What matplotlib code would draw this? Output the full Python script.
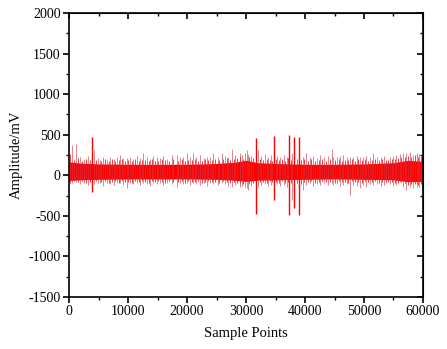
import numpy as np
import matplotlib
matplotlib.use('Agg')
import matplotlib.pyplot as plt
from matplotlib.ticker import MultipleLocator

# dense core of the signal (envelope)
core_x = [0, 2000, 5000, 10000, 15000, 20000, 25000, 28000, 30000, 32000,
          35000, 40000, 45000, 50000, 55000, 57500, 60000]
core_hi = [165, 150, 140, 135, 135, 135, 145, 160, 185, 155,
           145, 135, 135, 140, 155, 185, 170]
core_lo = [-65, -55, -50, -45, -45, -45, -50, -60, -75, -60,
           -55, -50, -45, -50, -55, -80, -75]

# single excursions sticking out of the core (sample, top, bottom)
spike_x = [450, 1190, 1800, 2500, 3200, 3960, 4300, 4900, 5250, 5800,
           6380, 7000, 7600, 8100, 8640, 9200, 9770, 10300, 10900, 11500,
           12000, 12600, 13200, 13800, 14300, 14850, 15400, 16000, 16600, 17400,
           18250, 18800, 19400, 19940, 20500, 21070, 21600, 22200, 22800, 23340,
           23900, 24470, 25200, 25880, 26500, 27000, 27580, 28200, 28900, 29270,
           29800, 30120, 30300, 30900, 31640, 32080, 32600, 33200, 33800, 34200,
           34750, 35300, 35800, 36400, 36900, 37350, 37800, 38200, 39000, 39600,
           40200, 40800, 41400, 42000, 42600, 43200, 43900, 44500, 44750, 45400,
           46000, 46480, 47100, 47600, 48200, 48800, 49300, 49900, 50400, 51000,
           51560, 52200, 52800, 53400, 53800, 54400, 55000, 55500, 56100, 56600,
           57180, 57800, 58300, 58900, 59400, 59750]
spike_hi = [373, 386, 230, 200, 240, 476, 312, 210, 189, 220,
            197, 230, 200, 220, 250, 210, 209, 230, 200, 240,
            210, 271, 220, 200, 240, 230, 210, 240, 200, 250,
            250, 220, 230, 271, 220, 271, 230, 250, 210, 230,
            220, 271, 230, 271, 240, 220, 320, 250, 270, 250,
            280, 312, 260, 240, 464, 312, 240, 260, 230, 250,
            484, 240, 220, 250, 230, 497, 280, 476, 476, 230,
            271, 220, 240, 210, 250, 220, 240, 320, 230, 220,
            240, 250, 220, 230, 220, 240, 220, 230, 240, 220,
            271, 230, 220, 240, 189, 230, 240, 250, 260, 270,
            280, 291, 250, 271, 260, 250]
spike_lo = [-100, -80, -110, -90, -120, -202, -110, -100, -90, -130,
            -100, -110, -120, -90, -100, -120, -161, -100, -110, -90,
            -120, -100, -110, -130, -100, -110, -90, -120, -100, -110,
            -140, -100, -110, -90, -120, -100, -110, -120, -100, -130,
            -100, -110, -120, -100, -110, -130, -140, -120, -140, -130,
            -150, -160, -181, -130, -481, -140, -120, -110, -130, -120,
            -305, -110, -130, -120, -140, -490, -300, -407, -490, -181,
            -120, -100, -130, -110, -120, -100, -120, -99, -120, -110,
            -130, -120, -110, -243, -120, -130, -161, -120, -140, -110,
            -120, -110, -130, -120, -100, -110, -130, -120, -79, -140,
            -181, -150, -160, -140, -150, -161]

# shorter ragged edges of the core
edge_x = [150, 800, 1500, 2150, 2800, 3500, 4600, 5500, 6100, 6700,
          7300, 7850, 8400, 8950, 9500, 10050, 10600, 11200, 11800, 12300,
          12900, 13500, 14050, 14600, 15150, 15700, 16300, 16950, 17700, 18500,
          19100, 19700, 20250, 20800, 21350, 21900, 22500, 23050, 23600, 24200,
          24800, 25500, 26150, 26750, 27300, 27900, 28550, 29050, 29550, 30550,
          31200, 32350, 32900, 33500, 34000, 34450, 35050, 35550, 36100, 36650,
          37100, 37600, 38600, 39300, 39900, 40500, 41100, 41700, 42300, 42900,
          43550, 44200, 45100, 45700, 46250, 46800, 47350, 47900, 48500, 49050,
          49600, 50150, 50700, 51300, 51850, 52500, 53100, 53650, 54100, 54700,
          55250, 55800, 56350, 56900, 57450, 58050, 58600, 59150, 59600, 59900]
edge_hi = [260, 190, 210, 180, 200, 185, 190, 175, 205, 180,
           195, 175, 185, 200, 170, 190, 180, 200, 175, 190,
           185, 170, 195, 180, 175, 200, 185, 170, 195, 180,
           200, 175, 190, 185, 195, 180, 175, 200, 185, 190,
           200, 185, 195, 210, 190, 200, 215, 225, 200, 230,
           210, 200, 185, 205, 190, 180, 200, 185, 195, 180,
           210, 190, 200, 185, 205, 180, 195, 175, 190, 200,
           180, 195, 185, 200, 175, 190, 185, 200, 180, 195,
           185, 200, 175, 190, 200, 185, 195, 180, 190, 200,
           195, 210, 220, 230, 240, 225, 245, 230, 235, 220]
edge_lo = [-90, -75, -85, -70, -95, -80, -75, -85, -70, -90,
           -80, -75, -95, -70, -85, -80, -90, -70, -85, -75,
           -80, -90, -70, -85, -75, -80, -90, -70, -80, -85,
           -75, -90, -70, -80, -85, -75, -90, -80, -70, -85,
           -80, -90, -75, -85, -95, -80, -100, -90, -105, -110,
           -95, -85, -80, -90, -75, -85, -80, -90, -75, -95,
           -85, -100, -90, -110, -85, -80, -75, -90, -80, -70,
           -85, -80, -90, -75, -85, -80, -90, -75, -85, -80,
           -90, -75, -85, -80, -70, -90, -80, -75, -85, -80,
           -90, -95, -85, -100, -120, -110, -105, -125, -110, -100]

plt.rcParams['font.family'] = ['Liberation Serif', 'DejaVu Serif']
plt.rcParams['axes.unicode_minus'] = False

fig = plt.figure(figsize=(4.47, 3.49), dpi=100)
ax = fig.add_axes([0.1544, 0.149, 0.7919, 0.8138])

ax.fill_between(core_x, core_lo, core_hi, color='#ff0000', lw=0)
ax.vlines(edge_x, edge_lo, edge_hi, color='#ee1c24', lw=0.7, alpha=0.85)
sx = np.array(spike_x); sh = np.array(spike_hi); sl = np.array(spike_lo)
big = (sh > 400) | (sl < -400)
ax.vlines(sx[~big], sl[~big], sh[~big], color='#d03040', lw=0.6, alpha=0.7)
ax.vlines(sx[big], sl[big], sh[big], color='#ff0000', lw=1.0)

ax.set_xlim(0, 60000)
ax.set_ylim(-1500, 2000)
ax.xaxis.set_major_locator(MultipleLocator(10000))
ax.xaxis.set_minor_locator(MultipleLocator(5000))
ax.yaxis.set_major_locator(MultipleLocator(500))
ax.yaxis.set_minor_locator(MultipleLocator(250))
ax.tick_params(which='major', direction='out', length=4, width=1.2, labelsize=10, pad=2)
ax.tick_params(which='minor', direction='out', length=2.5, width=1.0)
for s in ax.spines.values():
    s.set_linewidth(1.2)

# inward ticks on top and right
top = ax.secondary_xaxis('top')
top.xaxis.set_major_locator(MultipleLocator(10000))
top.xaxis.set_minor_locator(MultipleLocator(5000))
top.tick_params(which='major', direction='in', length=4, width=1.2, labeltop=False)
top.tick_params(which='minor', direction='in', length=2.5, width=1.0)
right = ax.secondary_yaxis('right')
right.yaxis.set_major_locator(MultipleLocator(500))
right.yaxis.set_minor_locator(MultipleLocator(250))
right.tick_params(which='major', direction='in', length=4, width=1.2, labelright=False)
right.tick_params(which='minor', direction='in', length=2.5, width=1.0)

ax.set_xlabel('Sample Points', fontsize=10.5, labelpad=6)
ax.set_ylabel('Amplitude/mV', fontsize=10.5, labelpad=4)

fig.savefig('out.png', dpi=100)
